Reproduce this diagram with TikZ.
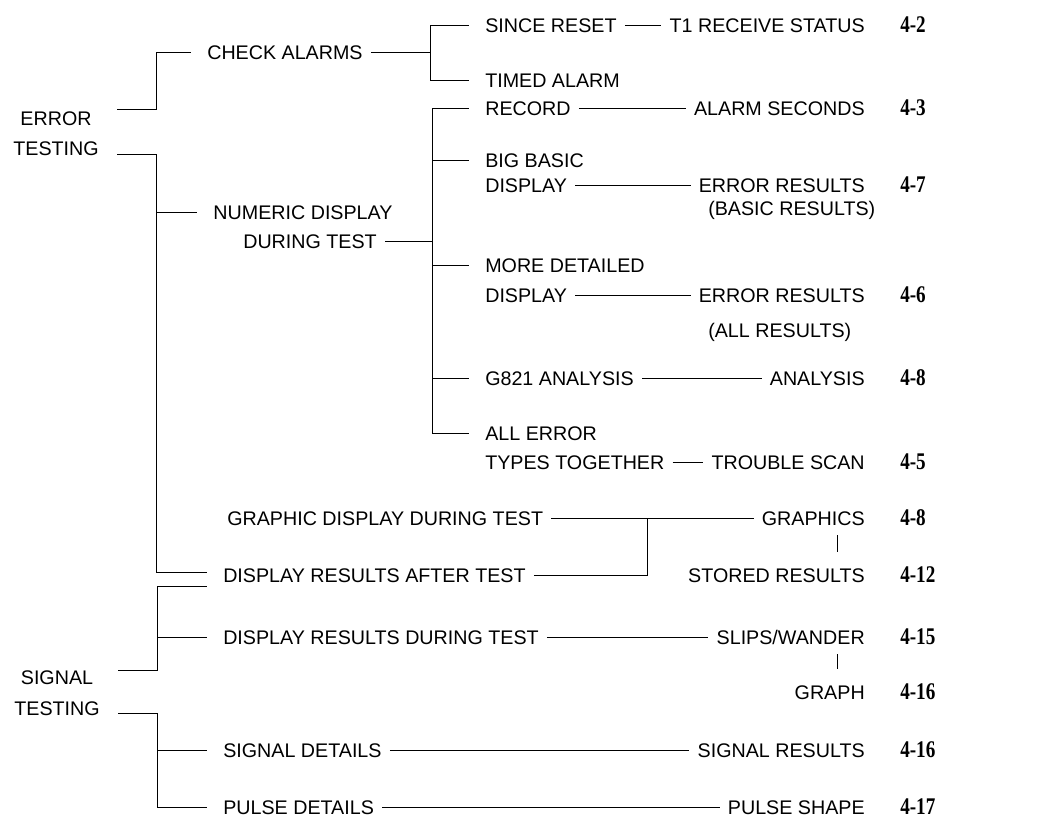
\documentclass[tikz,border=0pt]{standalone}
\usepackage{fontspec}
\setmainfont{Liberation Sans}
\newfontfamily\pagefont[FakeStretch=0.8]{Liberation Serif}
\usetikzlibrary{calc}

\newcommand{\lblfont}{\fontsize{14}{16}\selectfont}
\newcommand{\pgnfont}{\pagefont\bfseries\fontsize{17}{19}\selectfont}

\tikzset{
  lbl/.style={anchor=west, inner xsep=0.2cm, inner ysep=2pt,
    text height=10pt, text depth=0pt, font=\lblfont},
  rlbl/.style={lbl, anchor=east},
  pgn/.style={anchor=west, inner sep=0pt, font=\pgnfont},
  link/.style={line width=0.6pt},
  branch/.style={link, shorten >=0.2cm},
  tick/.style={link, shorten <=5pt, shorten >=9pt},
}

\begin{document}
\begin{tikzpicture}[x=0.025cm, y=-0.025cm]
  \useasboundingbox (0,0) rectangle (1051,820);

  % --- Radici ---
  \node[lbl, anchor=center] (errA) at (56,118) {ERROR};
  \node[lbl, anchor=center] (errB) at (56,148) {TESTING};
  \node[lbl, anchor=center] (sigA) at (57,677) {SIGNAL};
  \node[lbl, anchor=center] (sigB) at (57,708) {TESTING};

  % --- Primo livello ---
  \node[lbl] (chk) at (199,52) {CHECK ALARMS};
  \node[lbl, anchor=center] (numA) at (303,212) {NUMERIC DISPLAY};
  \node[lbl, anchor=center] (numB) at (310,241) {DURING TEST};
  \node[lbl] (gra) at (219,518) {GRAPHIC DISPLAY DURING TEST};
  \node[lbl] (aft) at (215,575) {DISPLAY RESULTS AFTER TEST};
  \node[lbl] (dur) at (215,637) {DISPLAY RESULTS DURING TEST};
  \node[lbl] (sdet) at (215,750) {SIGNAL DETAILS};
  \node[lbl] (pdet) at (215,807) {PULSE DETAILS};

  % --- Secondo livello ---
  \node[lbl] (since) at (477,25) {SINCE RESET};
  \node[lbl] (timA) at (477,80) {TIMED ALARM};
  \node[lbl] (timB) at (477,108) {RECORD};
  \node[lbl] (bigA) at (477,160) {BIG BASIC};
  \node[lbl] (bigB) at (477,185) {DISPLAY};
  \node[lbl] (morA) at (477,265) {MORE DETAILED};
  \node[lbl] (morB) at (477,295) {DISPLAY};
  \node[lbl] (g821) at (477,378) {G821 ANALYSIS};
  \node[lbl] (allA) at (477,433) {ALL ERROR};
  \node[lbl] (allB) at (477,462) {TYPES TOGETHER};

  % --- Risultati ---
  \node[rlbl] (t1) at (873,25) {T1 RECEIVE STATUS};
  \node[rlbl] (alsec) at (873,108) {ALARM SECONDS};
  \node[rlbl] (errresA) at (873,185) {ERROR RESULTS};
  \node[lbl] (basic) at (700,208) {(BASIC RESULTS)};
  \node[rlbl] (errresB) at (873,295) {ERROR RESULTS};
  \node[lbl] (allres) at (700,330) {(ALL RESULTS)};
  \node[rlbl] (ana) at (873,378) {ANALYSIS};
  \node[rlbl] (trouble) at (873,462) {TROUBLE SCAN};
  \node[rlbl] (graphics) at (873,518) {GRAPHICS};
  \node[rlbl] (stored) at (873,575) {STORED RESULTS};
  \node[rlbl] (slips) at (873,637) {SLIPS/WANDER};
  \node[rlbl] (graph) at (873,692) {GRAPH};
  \node[rlbl] (sres) at (873,750) {SIGNAL RESULTS};
  \node[rlbl] (pshape) at (873,807) {PULSE SHAPE};

  % --- Numeri di pagina ---
  \foreach \y/\p in {25/4-2, 108/4-3, 185/4-7, 295/4-6, 378/4-8, 462/4-5,
                     518/4-8, 575/4-12, 637/4-15, 692/4-16, 750/4-16, 807/4-17}
    \node[pgn] (pg\y) at (900,\y) {\p};

  % --- Error testing ---
  \coordinate (eA) at (117,109);
  \coordinate (eB) at (117,154);
  \coordinate (jNum) at (156,212);
  \draw[branch] (eA) -- ++(39,0) |- (chk);
  \draw[branch] (eB) -- ++(39,0) |- ([yshift=2pt]aft.west);
  \draw[branch] (jNum) -- (numA);

  % --- Check alarms ---
  \coordinate (jChk) at (430,52);
  \draw[link] (chk) -- (jChk);
  \draw[branch] (jChk) |- (since);
  \draw[branch] (jChk) |- (timA);

  % --- Numeric display ---
  \coordinate (jNum2) at (432,241);
  \draw[link] (numB) -- (jNum2);
  \foreach \n in {timB, bigA, morA, g821, allA}
    \draw[branch] (jNum2) |- (\n);

  % --- Collegamenti ai risultati ---
  \draw[link] (since) -- (t1);
  \draw[link] (timB) -- (alsec);
  \draw[link] (bigB) -- (errresA);
  \draw[link] (morB) -- (errresB);
  \draw[link] (g821) -- (ana);
  \draw[link] (allB) -- (trouble);
  \draw[link] (gra) -- (graphics);
  \draw[link] (dur) -- (slips);
  \draw[link] (sdet) -- (sres);
  \draw[link] (pdet) -- (pshape);

  % --- Display results after test ---
  \coordinate (jGra) at (647,518);
  \draw[link] (aft) -| (jGra);

  % --- Trattini verticali ---
  \coordinate (tk) at (837,0);
  \draw[tick] (graphics.south -| tk) -- (stored.north -| tk);
  \draw[tick] (slips.south -| tk) -- (graph.north -| tk);

  % --- Signal testing ---
  \coordinate (sA) at (118,670);
  \coordinate (sB) at (118,713);
  \coordinate (jSig) at (157,637);
  \coordinate (jSig2) at (157,750);
  \draw[branch] (sA) -- ++(39,0) |- ([yshift=-8pt]aft.west);
  \draw[branch] (jSig) -- (dur);
  \draw[branch] (sB) -- ++(39,0) |- (pdet);
  \draw[branch] (jSig2) -- (sdet);

\end{tikzpicture}
\end{document}
